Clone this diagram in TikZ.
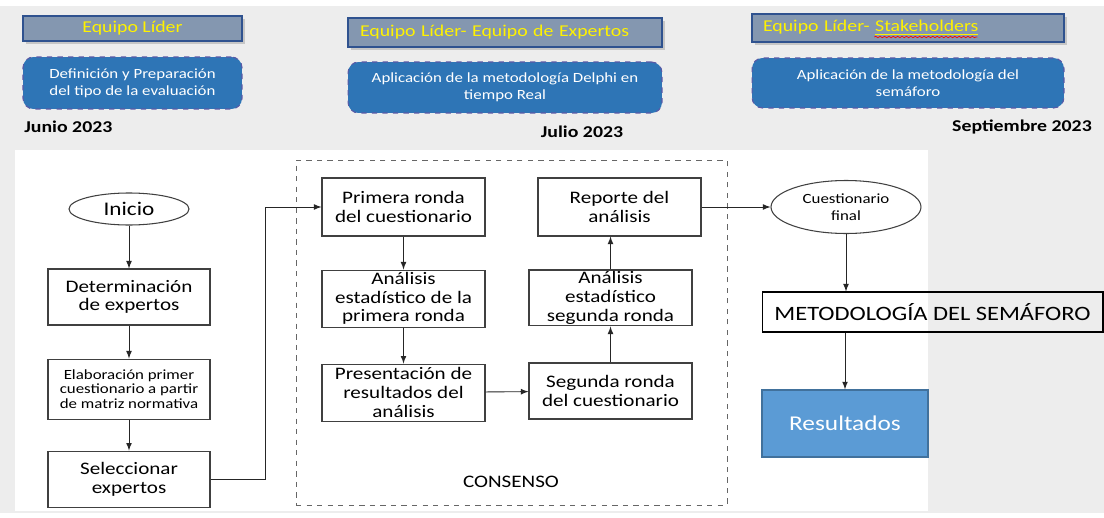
\documentclass[tikz,border=0pt]{standalone}
\usepackage{fontspec}
\setmainfont{Carlito}[FakeStretch=1.2]
\usepackage{tikz}
\usetikzlibrary{arrows,calc,positioning,shapes.geometric,shadows,decorations.pathmorphing}

\definecolor{fondo}{HTML}{EDEDED}
\definecolor{cabfill}{HTML}{8497B0}
\definecolor{cabdraw}{HTML}{2F528F}
\definecolor{azul}{HTML}{2E75B6}
\definecolor{azulclaro}{HTML}{5B9BD5}
\definecolor{bordeazul}{HTML}{41719C}
\definecolor{linea}{HTML}{404040}

\newcommand{\sz}[2]{\fontsize{#1}{#2}\selectfont}

\begin{document}
\begin{tikzpicture}[x=0.02cm, y=-0.02cm, >=latex,
	every node/.style={inner sep=0pt, align=center},
	cab/.style={draw=cabdraw, line width=0.8pt, fill=cabfill, text=yellow, font=\sz{9.4}{11}, drop shadow={shadow xshift=1.5pt, shadow yshift=-1.5pt, opacity=0.35}},
	fase/.style={draw=gray!70!blue, dashed, fill=azul, text=white, rounded corners=6pt, line width=0.6pt, font=\sz{8}{9.6}},
	fecha/.style={font=\sz{9.4}{11}\bfseries},
	caja/.style={draw=linea, rectangle, line width=0.6pt, text=black, font=\sz{10}{10.6}},
	elip/.style={draw=linea, ellipse, line width=0.6pt, text=black},
	flecha/.style={->, draw=black!85, line width=0.5pt}]
		
		% fondo
		\fill[white] (0,0) rectangle (1104,517);
		\fill[fondo] (0,6) rectangle (1104,513);
		\fill[white] (15,150) rectangle (928,511);
		\useasboundingbox (0,0) rectangle (1104,517);
		
		% equipos y fases
		\node[cab, minimum width=4.38cm, minimum height=0.5cm] (h1) at (132.5,28.5) {Equipo Líder};
		
		\node[cab, minimum height=0.58cm, text width=5.8cm, inner xsep=0.24cm, align=left] (h2) at (505,32.5) {Equipo Líder- Equipo de Expertos};
		
		\node[cab, minimum height=0.56cm, text width=5.8cm, inner xsep=0.22cm, align=left] (h3) at (908,28) {Equipo Líder- \underline{Stakeholders}};
		\draw[red, decorate, decoration={snake, amplitude=0.4pt, segment length=2.5pt}] ($(h3.west)+(123,9)$) -- ($(h3.west)+(226,9)$);
		
		\node[fase, minimum width=4.38cm, minimum height=1.04cm] (f1) at (132.5,83) {Definición y Preparación\\del tipo de la evaluación};
		
		\node[fase, minimum width=6.28cm, minimum height=1.02cm] (f2) at (505,87.5) {Aplicación de la metodología Delphi en\\tiempo Real};
		
		\node[fase, minimum width=6.24cm, minimum height=1cm] (f3) at (908,83) {Aplicación de la metodología del\\semáforo};
		
		\node[fecha, anchor=west] (d1) at (24,127) {Junio 2023};
		\node[fecha] (d2) at (582,132) {Julio 2023};
		\node[fecha] (d3) at (1022,127) {Septiembre 2023};
		
		% diagrama
		\node[elip, minimum width=2.4cm, minimum height=0.64cm, font=\sz{11}{13}] (v1) at (129,209) {Inicio};
		
		\node[caja, minimum width=3.24cm, minimum height=1.12cm] (v2) at (129,297) {Determinación\\de expertos};
		
		\node[caja, minimum width=3.24cm, minimum height=1.2cm, below = 0.66cm of v2, font=\sz{8}{8.4}] (v3) {Elaboración primer\\cuestionario a partir\\de matriz normativa};
		
		\node[caja, minimum width=3.24cm, minimum height=1.12cm, below = 0.62cm of v3] (v4) {Seleccionar\\expertos};
		
		\node[draw=linea!80, dashed, minimum width=8.62cm, minimum height=6.9cm] (cons) at (511.5,332.5) {};
		\node[font=\sz{10}{12}] (t1) at (511,482) {CONSENSO};
		
		\node[caja, minimum width=3.26cm, minimum height=1.16cm] (v5) at (403.5,207) {Primera ronda\\del cuestionario};
		
		\node[caja, minimum width=3.26cm, minimum height=1.14cm, below = 0.66cm of v5] (v6) {Análisis\\estadístico de la\\primera ronda};
		
		\node[caja, minimum width=3.26cm, minimum height=1.14cm, below = 0.72cm of v6] (v7) {Presentación de\\resultados del\\análisis};
		
		\node[caja, minimum width=3.26cm, minimum height=1.12cm] (v8) at (610.5,391) {Segunda ronda\\del cuestionario};
		
		\node[caja, minimum width=3.26cm, minimum height=1.12cm, above = 0.72cm of v8] (v9) {Análisis\\estadístico\\segunda ronda};
		
		\node[caja, minimum width=3.26cm, minimum height=1.16cm] (v10) at (619.5,207) {Reporte del\\análisis};
		
		\node[elip, minimum width=3cm, minimum height=1.06cm, font=\sz{8}{9.5}] (v11) at (846,207) {Cuestionario\\final};
		
		\node[caja, draw=black, minimum width=6.82cm, minimum height=0.8cm, font=\sz{11.6}{14}] (v12) at (932.5,312) {METODOLOGÍA DEL SEMÁFORO};
		
		\node[draw=bordeazul, fill=azulclaro, text=white, line width=0.8pt, minimum width=3.32cm, minimum height=1.34cm, font=\sz{12}{14}] (v13) at (845,423.5) {Resultados};
		
		% flechas
		\draw[flecha] (v1) -- (v2);
		\draw[flecha] (v2) -- (v3);
		\draw[flecha] (v3) -- (v4);
		\draw[flecha] (v4.east) -- ++(55,0) |- (v5.west);
		\draw[flecha] (v5) -- (v6);
		\draw[flecha] (v6) -- (v7);
		\draw[flecha] (v7) -- (v8);
		\draw[flecha] (v8) -- (v9);
		\draw[flecha] (v9.north) -- (v9.north |- v10.south);
		\draw[flecha] (v10) -- (v11);
		\draw[flecha] (v11.south) -- (v11.south |- v12.north);
		\draw[flecha] (v12.south -| v13.north) -- (v13.north);
		
\end{tikzpicture}
\end{document}
